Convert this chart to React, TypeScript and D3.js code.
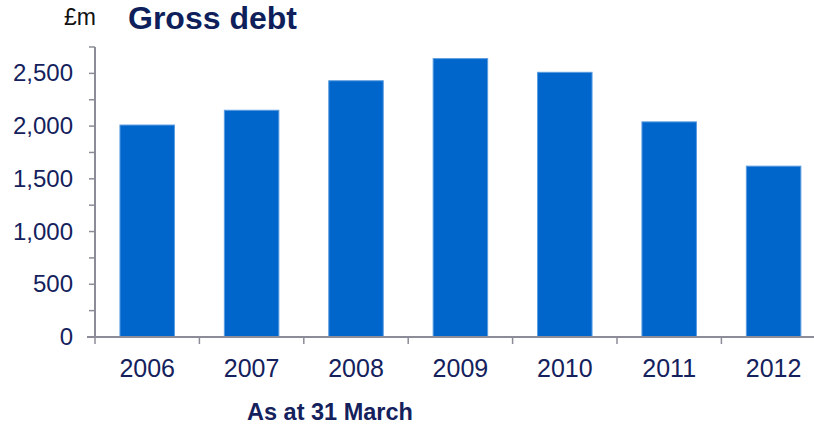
import React from "react";
import * as d3 from "d3";

const categories = ["2006", "2007", "2008", "2009", "2010", "2011", "2012"];
const grossDebt = [2010, 2150, 2430, 2640, 2510, 2040, 1620];
const majorTicks = [0, 500, 1000, 1500, 2000, 2500];
const minorTicks = [0, 250, 500, 750, 1000, 1250, 1500, 1750, 2000, 2250, 2500, 2750];

const W = 814;
const H = 424;
const left = 95;
const step = 104.4;
const baseY = 337;
const topY = 47;

export default function App() {
  const x = d3.scaleBand<string>().domain(categories).range([left, left + step * 7]).paddingInner(0.478).paddingOuter(0.239);
  const xb = d3.scaleBand<string>().domain(categories).range([left, left + step * 7]);
  const y = d3.scaleLinear().domain([0, 2750]).range([baseY, topY]);
  const fmt = d3.format(",");
  const navy = "#14215c";
  const axis = "#8c8c99";
  return (
    <svg width={W} height={H} style={{ position: "absolute", left: 0, top: 0 }} fontFamily="Liberation Sans, Arial, sans-serif">
      <rect width={W} height={H} fill="#fff" />
      <text x={64} y={25} fontSize={23} fill="#111">£m</text>
      <text x={128} y={29} fontSize={32} fontWeight="bold" fill="#0e1f5b">Gross debt</text>
      {grossDebt.map((v, i) => (
        <rect key={i} x={x(categories[i])!} y={y(v)} width={x.bandwidth()} height={baseY - y(v)} fill="#0066cc" stroke="#5a9be0" strokeWidth={1} />
      ))}
      <line x1={left} x2={left} y1={topY} y2={baseY} stroke={axis} strokeWidth={2} />
      {minorTicks.map((t) => (
        <line key={t} x1={left - 6} x2={left} y1={y(t)} y2={y(t)} stroke={axis} strokeWidth={1.5} />
      ))}
      {majorTicks.map((t) => (
        <text key={t} x={73} y={y(t) + 8} fontSize={24} textAnchor="end" fill={navy}>{fmt(t)}</text>
      ))}
      <line x1={left - 8} x2={W} y1={baseY} y2={baseY} stroke={axis} strokeWidth={2} />
      {categories.map((c) => (
        <line key={c} x1={xb(c)!} x2={xb(c)!} y1={baseY} y2={baseY + 7} stroke={axis} strokeWidth={1.5} />
      ))}
      {categories.map((c) => (
        <text key={c} x={xb(c)! + xb.bandwidth() / 2} y={377} fontSize={25} textAnchor="middle" fill={navy}>{c}</text>
      ))}
      <text x={247} y={420} fontSize={23.5} fontWeight="bold" fill={navy}>As at 31 March</text>
    </svg>
  );
}
